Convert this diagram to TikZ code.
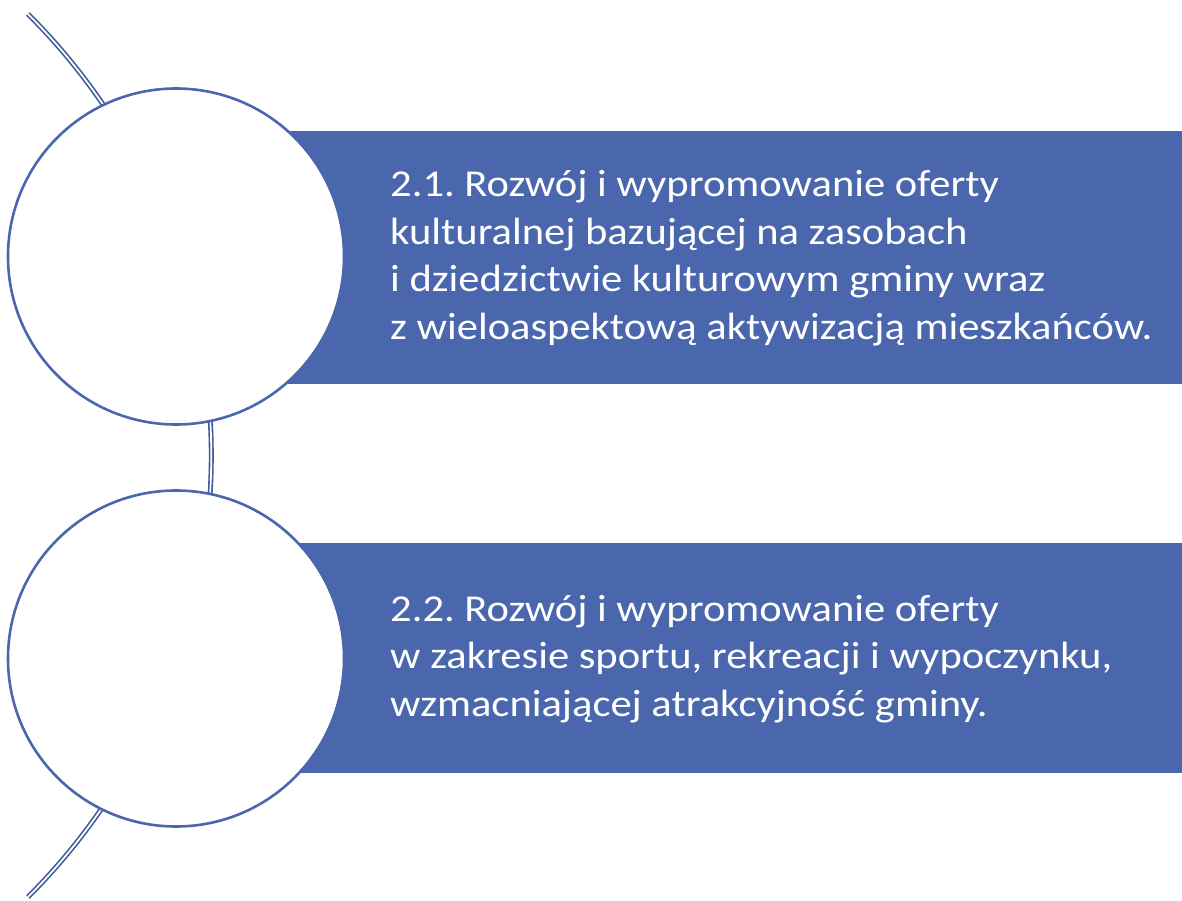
\documentclass[tikz,border=0pt]{standalone}
\usepackage{fontspec}
\setmainfont{Carlito}[FakeStretch=1.12]
\definecolor{boxblue}{HTML}{4A66AC}
\definecolor{arcblue}{HTML}{3C5896}
\tikzset{
  bar/.style={fill=boxblue, draw=none},
  ring/.style={circle, draw=boxblue, line width=2.6pt, fill=white, minimum size=336pt, inner sep=0pt},
  label/.style={anchor=west, align=left, text=white, font=\fontsize{38}{47.5}\selectfont, inner sep=0pt},
  spine/.style={draw=arcblue, double=white, double distance=1.8pt, line width=1.6pt}
}
\begin{document}
\frenchspacing
\begin{tikzpicture}[x=1pt,y=-1pt]
\path[use as bounding box] (0,0) rectangle (1182,901);
% spine arc
\draw[spine] (-412,455.5) ++(-45.1:623.3) arc[start angle=-45.1, end angle=45.1, radius=623.3];
% bars
\path[bar] (175,131) rectangle (1182,384);
\path[bar] (175,543) rectangle (1182,773);
% circles
\node[ring] (c1) at (176,256.5) {};
\node[ring] (c2) at (176,658.5) {};
% texts
\node[label] (t1) at (390,258) {2.1. Rozwój i wypromowanie oferty\\kulturalnej bazującej na zasobach\\i dziedzictwie kulturowym gminy wraz\\z wieloaspektową aktywizacją mieszkańców.};
\node[label] (t2) at (390,659) {2.2. Rozwój i wypromowanie oferty\\w zakresie sportu, rekreacji i wypoczynku,\\wzmacniającej atrakcyjność gminy.};
\end{tikzpicture}
\end{document}
